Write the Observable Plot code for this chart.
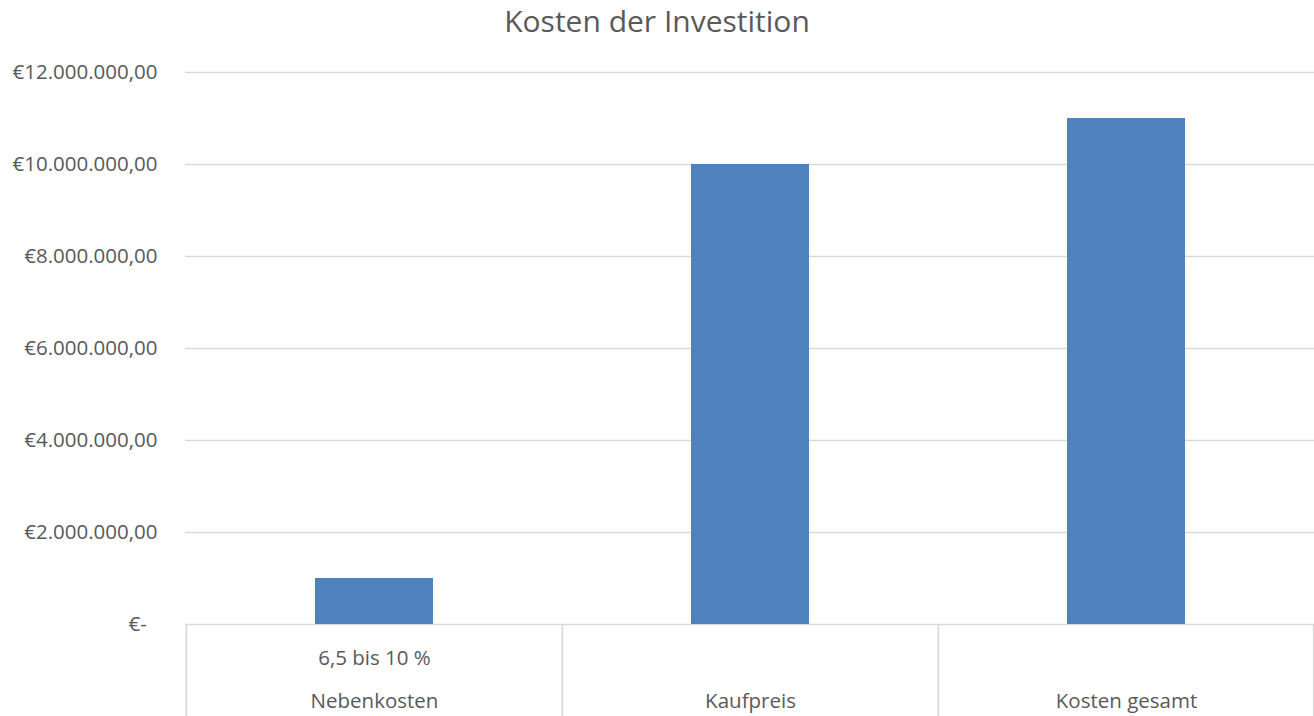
<!DOCTYPE html>
<html>
<head>
<meta charset="utf-8">
<script src="https://cdn.jsdelivr.net/npm/d3@7"></script>
<script src="https://cdn.jsdelivr.net/npm/@observablehq/plot@0.6"></script>
<style>
  html, body { margin: 0; padding: 0; background: #fff; }
  #wrap { width: 1314px; height: 716px; overflow: hidden; }
  #title { width: 1314px; height: 42px; text-align: center;
           font-family: "Open Sans", sans-serif; font-size: 30px; color: #595959; line-height: 42px; }
  svg { display: block; }
</style>
</head>
<body>
<div id="wrap"><div id="title">Kosten der Investition</div></div>
<script>
const categories = ["Nebenkosten", "Kaufpreis", "Kosten gesamt"];
const values = [1000000, 10000000, 11000000];
const subLabels = ["6,5 bis 10 %", "", ""];
const yTicks = [0, 2000000, 4000000, 6000000, 8000000, 10000000, 12000000];

const data = categories.map((c, i) => ({ category: c, value: values[i], sub: subLabels[i] }));

const titleH = 42;
const W = 1314, H = 716 - titleH, mL = 185, mR = 0, mT = 72 - titleH, mB = 92;
const step = (W - mL - mR) / categories.length;
const grey = "#595959";
const gridC = "#d9d9d9";
const fs = 20.5;

const fmt = v => v === 0 ? "€-\u00A0\u00A0" :
  "€" + d3.format(",.2f")(v).replace(/,/g, "#").replace(/\./g, ",").replace(/#/g, ".");

const chart = Plot.plot({
  width: W, height: H,
  marginLeft: mL, marginRight: mR, marginTop: mT, marginBottom: mB,
  style: { fontFamily: "Open Sans, sans-serif", fontSize: fs + "px", color: grey, background: "transparent" },
  x: { domain: categories, paddingInner: 0.687, paddingOuter: 0.3435, label: null },
  y: { domain: [0, 12000000], label: null },
  marks: [
    Plot.ruleY(yTicks, { stroke: gridC, strokeWidth: 1.6 }),
    Plot.barY(data, { x: "category", y: "value", fill: "#4f81bd" }),
    Plot.ruleX(data, { x: "category", y1: 0, y2: -2000000, dx: -step / 2, stroke: gridC, strokeWidth: 1.6 }),
    Plot.ruleX(data.slice(-1), { x: "category", y1: 0, y2: -2000000, dx: step / 2 - 1, stroke: gridC, strokeWidth: 1.6 }),
    Plot.axisY({ ticks: yTicks, tickFormat: fmt, tickSize: 0, tickPadding: 28, label: null, fill: grey, fontSize: fs }),
    Plot.axisX({ tickSize: 0, tickPadding: 69, label: null, fill: grey, fontSize: fs }),
    Plot.text(data.filter(d => d.sub), { x: "category", y: 0, text: "sub", dy: 34, fill: grey, fontSize: fs })
  ]
});
document.getElementById("wrap").appendChild(chart);
</script>
</body>
</html>
